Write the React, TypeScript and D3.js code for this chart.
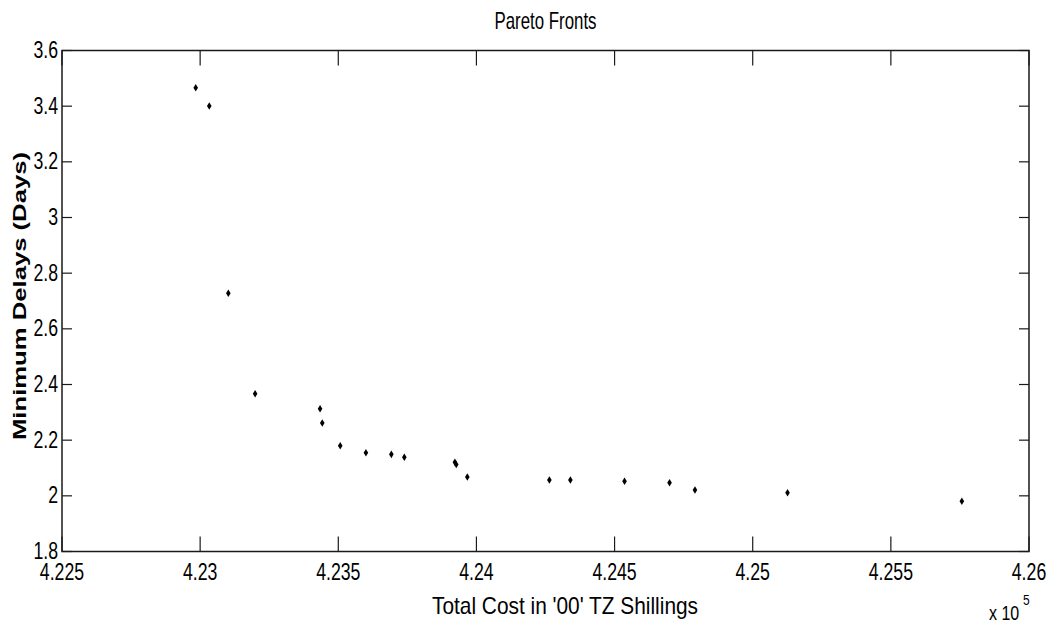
import React, { useEffect, useRef } from "react";
import * as d3 from "d3";

const costX: number[] = [
  4.22984, 4.23033, 4.23102, 4.23199, 4.23434, 4.23442, 4.23507, 4.2360,
  4.23692, 4.23739, 4.23922, 4.23927, 4.23967, 4.24264, 4.2434, 4.24536,
  4.24699, 4.24791, 4.25126, 4.25757,
];
const delayY: number[] = [
  3.466, 3.4006, 2.7277, 2.367, 2.313, 2.2617, 2.18, 2.155, 2.149, 2.1385,
  2.1205, 2.1126, 2.0677, 2.0569, 2.0569, 2.0522, 2.0472, 2.021, 2.0113,
  1.9804,
];
const xTicks: number[] = [4.225, 4.23, 4.235, 4.24, 4.245, 4.25, 4.255, 4.26];
const xTickLabels: string[] = ["4.225", "4.23", "4.235", "4.24", "4.245", "4.25", "4.255", "4.26"];
const yTicks: number[] = [1.8, 2, 2.2, 2.4, 2.6, 2.8, 3, 3.2, 3.4, 3.6];
const yTickLabels: string[] = ["1.8", "2", "2.2", "2.4", "2.6", "2.8", "3", "3.2", "3.4", "3.6"];

const titleText = "Pareto Fronts";
const xLabelText = "Total Cost in '00' TZ Shillings";
const yLabelText = "Minimum Delays (Days)";

export default function App() {
  const ref = useRef<SVGSVGElement | null>(null);

  useEffect(() => {
    const W = 1051, H = 628;
    const L = 62, R = 1029, T = 50.5, B = 551.5;
    const svg = d3.select(ref.current);
    svg.selectAll("*").remove();
    svg.attr("width", W).attr("height", H);
    svg.append("rect").attr("width", W).attr("height", H).attr("fill", "#fff");

    const x = d3.scaleLinear().domain([4.225, 4.26]).range([L, R]);
    const y = d3.scaleLinear().domain([1.8, 3.6]).range([B, T]);
    const font = "'Liberation Sans', Arial, sans-serif";
    const axColor = "#1a1a1a";

    const g = svg.append("g");
    xTicks.forEach((t) => {
      g.append("line").attr("x1", x(t)).attr("x2", x(t)).attr("y1", B).attr("y2", B - 15)
        .attr("stroke", axColor).attr("stroke-width", 1.2);
      g.append("line").attr("x1", x(t)).attr("x2", x(t)).attr("y1", T).attr("y2", T + 15)
        .attr("stroke", axColor).attr("stroke-width", 1.2);
    });
    yTicks.forEach((t) => {
      g.append("line").attr("x1", L).attr("x2", L + 10).attr("y1", y(t)).attr("y2", y(t))
        .attr("stroke", axColor).attr("stroke-width", 1.2);
      g.append("line").attr("x1", R).attr("x2", R - 10).attr("y1", y(t)).attr("y2", y(t))
        .attr("stroke", axColor).attr("stroke-width", 1.2);
    });
    g.append("rect").attr("x", L).attr("y", T).attr("width", R - L).attr("height", B - T)
      .attr("fill", "none").attr("stroke", axColor).attr("stroke-width", 1.5);

    xTicks.forEach((t, i) => {
      svg.append("g").attr("transform", `translate(${x(t)},${580}) scale(0.77,1)`)
        .append("text").attr("text-anchor", "middle").attr("font-family", font)
        .attr("font-size", 23).attr("fill", "#000").text(xTickLabels[i]);
    });
    yTicks.forEach((t, i) => {
      svg.append("g").attr("transform", `translate(${58},${y(t) + 7.5}) scale(0.77,1)`)
        .append("text").attr("text-anchor", "end").attr("font-family", font)
        .attr("font-size", 23).attr("fill", "#000").text(yTickLabels[i]);
    });

    svg.append("text").attr("x", 545.5).attr("y", 29).attr("text-anchor", "middle")
      .attr("font-family", font).attr("font-size", 24)
      .attr("textLength", 102).attr("lengthAdjust", "spacingAndGlyphs").text(titleText);

    svg.append("text").attr("x", 565).attr("y", 614).attr("text-anchor", "middle")
      .attr("font-family", font).attr("font-size", 24)
      .attr("textLength", 266).attr("lengthAdjust", "spacingAndGlyphs").text(xLabelText);

    svg.append("text").attr("transform", `translate(26,296) rotate(-90)`)
      .attr("text-anchor", "middle").attr("font-family", font).attr("font-weight", "bold")
      .attr("font-size", 19).attr("textLength", 288).attr("lengthAdjust", "spacingAndGlyphs")
      .text(yLabelText);

    svg.append("g").attr("transform", `translate(989,620) scale(0.8,1)`)
      .append("text").attr("font-family", font).attr("font-size", 20).text("x 10");
    svg.append("g").attr("transform", `translate(1023,605) scale(0.8,1)`)
      .append("text").attr("font-family", font).attr("font-size", 15).text("5");

    const diamond = "M0,-3.8L2.3,0L0,3.8L-2.3,0Z";
    svg.append("g").selectAll("path").data(costX.map((c, i) => [c, delayY[i]]))
      .join("path")
      .attr("d", diamond)
      .attr("transform", (d) => `translate(${x(d[0])},${y(d[1])})`)
      .attr("fill", "#000");
  }, []);

  return <svg ref={ref} style={{ position: "absolute", left: 0, top: 0 }} />;
}
